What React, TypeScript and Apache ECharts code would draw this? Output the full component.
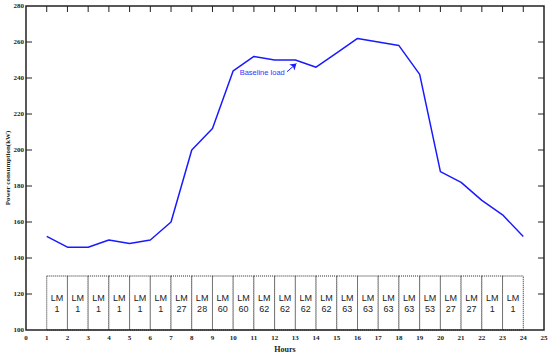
import React, { useEffect, useRef } from "react";
import * as echarts from "echarts";

const hours = [1,2,3,4,5,6,7,8,9,10,11,12,13,14,15,16,17,18,19,20,21,22,23,24];
const baselineLoad = [152,146,146,150,148,150,160,200,212,244,252,250,250,246,254,262,260,258,242,188,182,172,164,152];
const lmStarts = [1,2,3,4,5,6,7,8,9,10,11,12,13,14,15,16,17,18,19,20,21,22,23];
const lmValues = [1,1,1,1,1,1,27,28,60,60,62,62,62,62,63,63,63,63,53,27,27,1,1];
const boxBottom = 100;
const boxTop = 130;
const xMin = 0, xMax = 25, xStep = 1;
const yMin = 100, yMax = 280, yStep = 20;
const xTickValues = [1,2,3,4,5,6,7,8,9,10,11,12,13,14,15,16,17,18,19,20,21,22,23,24];
const yTickValues = [120,140,160,180,200,220,240,260];

export default function App() {
  const ref = useRef<HTMLDivElement>(null);
  useEffect(() => {
    const chart = echarts.init(ref.current!, undefined, { renderer: "svg" });
    const labelFont = { fontFamily: "Liberation Serif", fontWeight: "bold", fontSize: 7, color: "#222" };
    chart.setOption({
      animation: false,
      grid: { left: 26, right: 6, top: 6, bottom: 24, outerBoundsMode: "none" },
      xAxis: {
        type: "value", min: xMin, max: xMax, interval: xStep,
        name: "Hours", nameLocation: "middle", nameGap: 12,
        nameTextStyle: { fontFamily: "Liberation Serif", fontWeight: "bold", fontSize: 8, color: "#222" },
        axisLine: { show: false },
        axisTick: { show: false },
        axisLabel: { ...labelFont, margin: 4 },
        splitLine: { show: false },
      },
      yAxis: {
        type: "value", min: yMin, max: yMax, interval: yStep,
        axisLine: { show: false },
        axisTick: { show: false },
        axisLabel: { ...labelFont, margin: 2 },
        splitLine: { show: false },
      },
      graphic: [
        {
          type: "text",
          x: 8,
          y: 168,
          rotation: Math.PI / 2,
          style: {
            text: "Power consumption(kW)",
            font: "bold 7px 'Liberation Serif'",
            fill: "#222",
            align: "center",
            verticalAlign: "middle",
          },
        },
      ],
      series: [
        {
          type: "custom",
          data: lmStarts.map((s, i) => [s, lmValues[i]]),
          z: 2,
          renderItem: (params: any, api: any) => {
            const x0 = api.value(0);
            const v = api.value(1);
            const p0 = api.coord([x0, boxTop]);
            const p1 = api.coord([x0 + 1, boxBottom]);
            return {
              type: "group",
              children: [
                {
                  type: "rect",
                  shape: { x: p0[0], y: p0[1], width: p1[0] - p0[0], height: p1[1] - p0[1] },
                  style: { fill: "#fff", stroke: "#222", lineWidth: 1, lineDash: [1, 1] },
                },
                {
                  type: "text",
                  x: (p0[0] + p1[0]) / 2,
                  y: (p0[1] + p1[1]) / 2,
                  style: {
                    text: "LM\n" + v, fill: "#222", font: "9px 'Liberation Sans'",
                    align: "center", verticalAlign: "middle", lineHeight: 11,
                  },
                },
              ],
            };
          },
        },
        {
          type: "line",
          z: 3,
          data: hours.map((h, i) => [h, baselineLoad[i]]),
          symbol: "none",
          lineStyle: { color: "#1a1aff", width: 1.5 },
          markLine: {
            silent: true,
            symbol: ["none", "arrow"],
            symbolSize: 6,
            lineStyle: { color: "#1a1aff", width: 1, type: "solid" },
            label: { show: false },
            data: [[{ coord: [12.6, 243.5] }, { coord: [13.05, 248] }]],
          },
          markPoint: {
            silent: true,
            symbol: "circle",
            symbolSize: 0,
            label: {
              show: true, formatter: "Baseline load", color: "#3333ff",
              fontFamily: "Liberation Sans", fontSize: 7.5, position: "inside",
            },
            data: [{ coord: [11.4, 243.2] }],
          },
        },
        {
          type: "custom",
          z: 4,
          silent: true,
          clip: false,
          data: [[xMin, yMin]],
          renderItem: (params: any, api: any) => {
            const tl = api.coord([xMin, yMax]);
            const br = api.coord([xMax, yMin]);
            const stroke = { stroke: "#222", lineWidth: 1 };
            const children: any[] = [
              {
                type: "rect",
                shape: { x: tl[0], y: tl[1], width: br[0] - tl[0], height: br[1] - tl[1] },
                style: { fill: "none", stroke: "#222", lineWidth: 1.5 },
              },
            ];
            xTickValues.forEach((t) => {
              const p = api.coord([t, yMax]);
              children.push({ type: "line", shape: { x1: p[0], y1: tl[1], x2: p[0], y2: tl[1] + 6 }, style: stroke });
            });
            yTickValues.forEach((t) => {
              const p = api.coord([xMin, t]);
              children.push({ type: "line", shape: { x1: tl[0], y1: p[1], x2: tl[0] + 6, y2: p[1] }, style: stroke });
              children.push({ type: "line", shape: { x1: br[0], y1: p[1], x2: br[0] - 6, y2: p[1] }, style: stroke });
            });
            return { type: "group", children };
          },
        },
      ],
    });
    return () => chart.dispose();
  }, []);
  return <div ref={ref} style={{ width: 550, height: 354, position: "absolute", left: 0, top: 0 }} />;
}
